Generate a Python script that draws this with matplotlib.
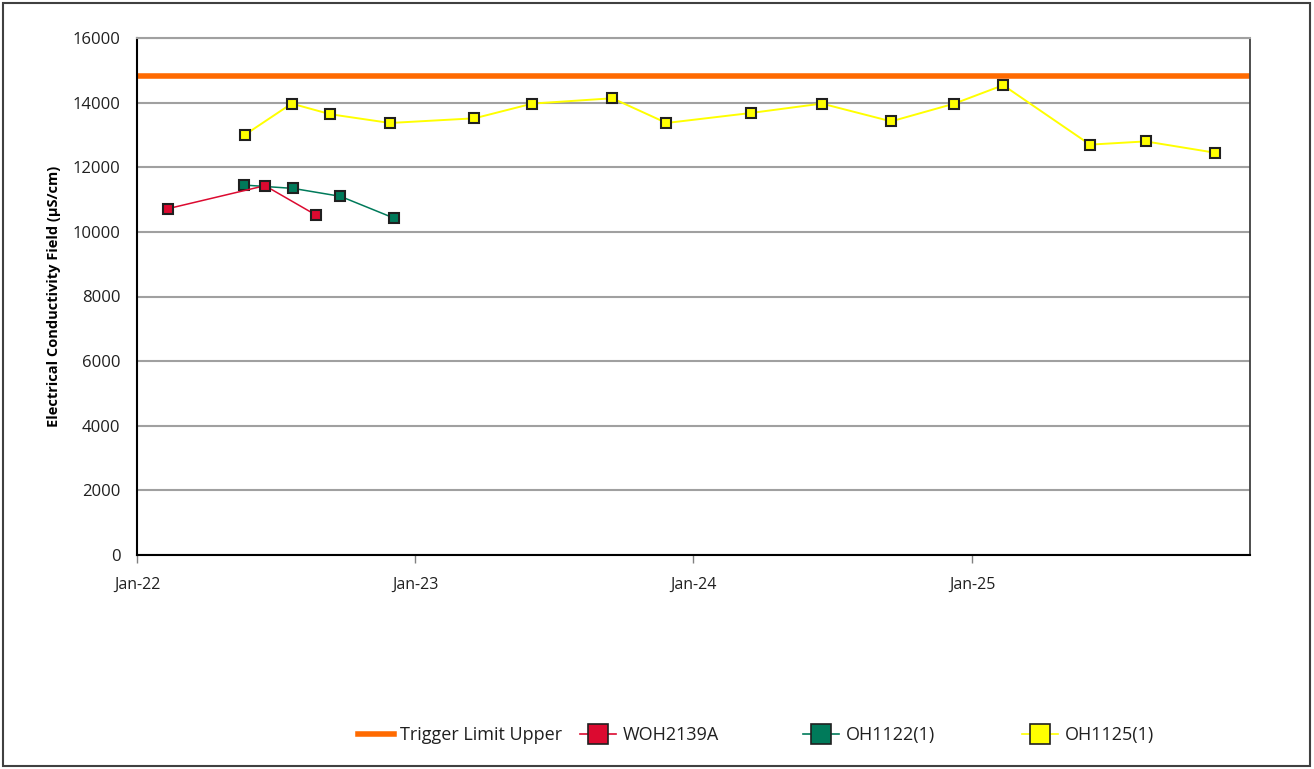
import matplotlib
matplotlib.use("Agg")
import matplotlib.pyplot as plt
import matplotlib.dates as mdates
from matplotlib.lines import Line2D
import pandas as pd

# ---- data ----
trigger_limit_upper = 14830

woh2139a_dates = ["2022-02-11", "2022-06-18", "2022-08-24"]
woh2139a_values = [10720, 11430, 10520]

oh1122_dates = ["2022-05-21", "2022-07-25", "2022-09-25", "2022-12-05"]
oh1122_values = [11450, 11345, 11100, 10420]

oh1125_dates = ["2022-05-23", "2022-07-23", "2022-09-12", "2022-11-29",
                "2023-03-20", "2023-06-04", "2023-09-17", "2023-11-27",
                "2024-03-17", "2024-06-18", "2024-09-17", "2024-12-09",
                "2025-02-11", "2025-06-05", "2025-08-17", "2025-11-16"]
oh1125_values = [13010, 13970, 13640, 13370,
                 13515, 13970, 14135, 13370,
                 13680, 13970, 13420, 13970,
                 14540, 12700, 12800, 12450]

x_ticks = ["2022-01-01", "2023-01-01", "2024-01-01", "2025-01-01"]
x_limits = ["2022-01-01", "2026-01-01"]
y_ticks = [0, 2000, 4000, 6000, 8000, 10000, 12000, 14000, 16000]

series_names = ["Trigger Limit Upper", "WOH2139A", "OH1122(1)", "OH1125(1)"]
colors = {"Trigger Limit Upper": "#FF6A00", "WOH2139A": "#DC0A30",
          "OH1122(1)": "#007A5A", "OH1125(1)": "#FFFF00"}

plt.rcParams['font.family'] = ['Open Sans', 'DejaVu Sans']

fig = plt.figure(figsize=(13.14, 7.69), dpi=100)
ax = fig.add_axes([137/1314, 1-555/769, (1250-137)/1314, (555-38)/769])

# figure border
fig.patches.append(plt.Rectangle((3/1314, 3/769), 1-7/1314, 1-6/769,
                                 transform=fig.transFigure, fill=False,
                                 edgecolor="#404040", linewidth=1.5))

ax.set_ylim(0, 16000)
ax.set_xlim(pd.to_datetime(x_limits[0]), pd.to_datetime(x_limits[1]))
ax.set_yticks(y_ticks)
ax.set_yticklabels([str(v) for v in y_ticks])
ax.set_xticks(pd.to_datetime(x_ticks))
ax.xaxis.set_major_formatter(mdates.DateFormatter("%b-%y"))
ax.grid(axis='y', color="#A0A0A0", linewidth=1.5)
ax.set_axisbelow(True)

for s in ["left", "bottom"]:
    ax.spines[s].set_color("black")
    ax.spines[s].set_linewidth(1.5)
ax.spines["right"].set_color("#404040")
ax.spines["right"].set_linewidth(1.3)
ax.spines["top"].set_color("#A0A0A0")
ax.spines["top"].set_linewidth(1.5)

ax.tick_params(axis='x', direction='out', length=6, width=1, color="#808080",
               labelsize=11.5, pad=10, colors="#202020")
ax.tick_params(axis='y', direction='out', length=0, labelsize=12, pad=12,
               colors="#202020")
for lab in ax.get_xticklabels() + ax.get_yticklabels():
    lab.set_color("#202020")

ax.axhline(trigger_limit_upper, color=colors["Trigger Limit Upper"], linewidth=4)

mk = dict(marker='s', markersize=7.5, markeredgecolor='#202020', markeredgewidth=1.5)
ax.plot(pd.to_datetime(woh2139a_dates), woh2139a_values, color=colors["WOH2139A"],
        linewidth=1.1, markerfacecolor=colors["WOH2139A"], zorder=4, **mk)
ax.plot(pd.to_datetime(oh1122_dates), oh1122_values, color=colors["OH1122(1)"],
        linewidth=1.1, markerfacecolor=colors["OH1122(1)"], zorder=3, **mk)
ax.plot(pd.to_datetime(oh1125_dates), oh1125_values, color=colors["OH1125(1)"],
        linewidth=1.4, markerfacecolor=colors["OH1125(1)"], zorder=3, **mk)

ax.set_ylabel("Electrical Conductivity Field (µS/cm)", fontsize=10.5,
              fontweight='bold', labelpad=8)

# legend items placed individually
handles = [
    Line2D([], [], color=colors["Trigger Limit Upper"], linewidth=4),
    Line2D([], [], color=colors["WOH2139A"], linewidth=1.2, marker='s', markersize=14,
           markerfacecolor=colors["WOH2139A"], markeredgecolor='#202020', markeredgewidth=1.2),
    Line2D([], [], color=colors["OH1122(1)"], linewidth=1.2, marker='s', markersize=14,
           markerfacecolor=colors["OH1122(1)"], markeredgecolor='#202020', markeredgewidth=1.2),
    Line2D([], [], color=colors["OH1125(1)"], linewidth=1.2, marker='s', markersize=14,
           markerfacecolor=colors["OH1125(1)"], markeredgecolor='#202020', markeredgewidth=1.2),
]
legend_x = [358, 580, 803, 1022]
for h, name, lx in zip(handles, series_names, legend_x):
    lg = fig.legend(handles=[h], labels=[name], loc='center left',
                    bbox_to_anchor=(lx/1314, 1-735/769), frameon=False,
                    fontsize=13, handlelength=2.0, handletextpad=0.35,
                    borderaxespad=0, borderpad=0)
    for t in lg.get_texts():
        t.set_color("#202020")

fig.savefig("out.png", dpi=100)
